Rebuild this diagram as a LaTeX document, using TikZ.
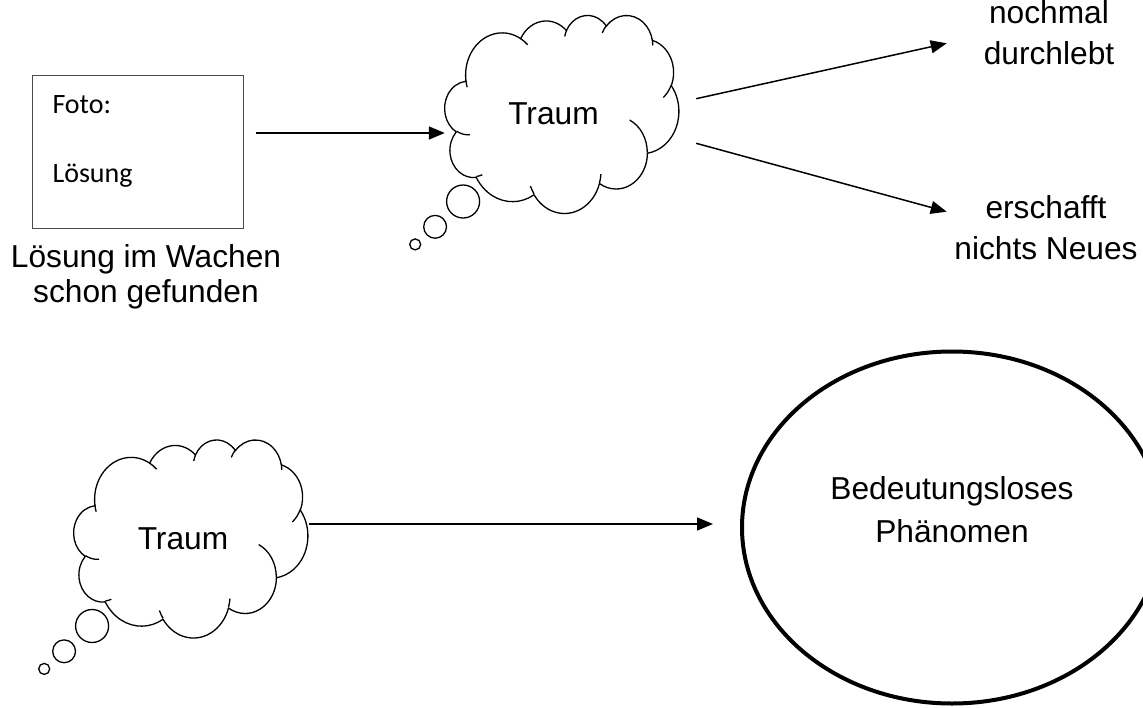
\documentclass[tikz,border=0pt]{standalone}
\usepackage{fontspec}
\setmainfont{Liberation Sans}
\newfontfamily\calfont{Carlito}
\usetikzlibrary{arrows.meta,shapes.geometric}
% arc of a DrawingML preset: wR, hR, start angle, swing angle (visual angles)
\newcommand\carc[4]{arc[start angle={atan2(#1*sin(#3),#2*cos(#3))}, delta angle={mod(atan2(#1*sin(#3+#4),#2*cos(#3+#4))-atan2(#1*sin(#3),#2*cos(#3))+720,360)}, x radius={#1/432}, y radius={#2/432}]}
\newcommand\cloudshape{%
  \draw[cloudline] (9.0278,33.2639)
    \carc{6753}{9190}{-190.48748}{123.78053}
    \carc{5333}{7267}{-144.10238}{89.94523}
    \carc{4365}{5945}{-145.80792}{99.72302}
    \carc{4857}{6595}{-130.98607}{117.24173}
    \carc{5333}{7273}{-78.70888}{109.02692}
    \carc{6775}{9220}{-46.26725}{130.26900}
    \carc{5785}{7867}{0.62502}{114.03333}
    \carc{6752}{9215}{22.45160}{115.17255}
    \carc{7720}{10543}{66.24263}{75.71102}
    \carc{4360}{5918}{-274.94208}{146.73557}
    \carc{4345}{5945}{-246.82850}{152.51885}
    -- cycle;
  \draw[cloudline]
    (10.8634,60.5949) \carc{4345}{5945}{86.742}{26.4295}
    (16.0370,80.7847) \carc{4360}{5918}{73.61047}{11.44747}
    (38.1435,90.4861) \carc{6752}{9215}{137.62415}{14.0811}
    (66.7292,80.4421) \carc{6752}{9215}{6.45327}{15.99835}
    (79.0023,53.1343) \carc{5785}{7867}{-70.29235}{70.91737}
    (96.7546,35.5417) \carc{5333}{7273}{30.31803}{27.7515}
    (88.7130,12.5602) \carc{4857}{6595}{-13.74433}{14.8589}
    (67.3102,9.1481) \carc{4857}{6595}{-149.18145}{18.19537}
    (51.2523,10.9259) \carc{4365}{5945}{-163.49427}{17.68635}
    (32.4074,12.0185) \carc{6753}{9190}{-66.70695}{12.31935}
    (9.5532,36.5486) \carc{6753}{9190}{157.65435}{11.85817};
}
\tikzset{
  lbl/.style={font=\fontsize{31.7}{40.7}\selectfont, align=center, inner sep=0pt},
  cloudline/.style={line width=1.3pt, line join=round},
  cloudnode/.style={minimum width=234pt, minimum height=198pt, inner sep=0pt, font=\fontsize{31.7}{38}\selectfont},
  arr/.style={line width=1.5pt, -{Triangle[length=16pt,width=13pt]}},
  bubble/.style={draw, circle, line width=1.3pt, inner sep=0pt},
}
\begin{document}
\begin{tikzpicture}[x=1pt,y=-1pt]
\useasboundingbox (0,0) rectangle (1143,707);

% box with text
\node[draw=black!70, line width=1pt, minimum width=211pt, minimum height=153pt, inner sep=0pt] (box) at (137.5,151.5) {};
\node[anchor=north west, align=left, inner sep=0pt, font=\calfont\fontsize{28}{34.5}\selectfont] (bt) at (52.3,95) {Foto:\\[34.5pt]Lösung};
\node[lbl, anchor=north, font=\fontsize{31.7}{35.3}\selectfont] (n3) at (146,243.9) {Lösung im Wachen\\schon gefunden};

% top cloud
\node[cloudnode] (c1) at (562,114) {\hspace*{-17pt}Traum};
\begin{scope}[shift={(c1.north west)}, xscale=2.34, yscale=1.98]
  \cloudshape
\end{scope}
\node[bubble, minimum size=33pt] (b1) at ([shift={(18.3,186.7)}]c1.north west) {};
\node[bubble, minimum size=22.8pt] (b2) at ([shift={(-9.7,212)}]c1.north west) {};
\node[bubble, minimum size=11pt] (b3) at ([shift={(-29.6,229.6)}]c1.north west) {};

% right labels
\node[lbl, anchor=north] (n1) at (1049,0.5) {nochmal\\durchlebt};
\node[lbl, anchor=north] (n2) at (1046,195.5) {erschafft\\nichts Neues};

% bottom cloud
\node[cloudnode] (c2) at (191,538.5) {\hspace*{-16pt}Traum};
\begin{scope}[shift={(c2.north west)}, xscale=2.34, yscale=1.98]
  \cloudshape
\end{scope}
\node[bubble, minimum size=33pt] (b4) at ([shift={(18.3,186.7)}]c2.north west) {};
\node[bubble, minimum size=22.8pt] (b5) at ([shift={(-9.7,212)}]c2.north west) {};
\node[bubble, minimum size=11pt] (b6) at ([shift={(-29.6,229.6)}]c2.north west) {};

% ellipse
\node[draw, ellipse, line width=4pt, minimum width=420pt, minimum height=352pt, inner sep=0pt] (ell) at (952,527.5) {};
\node[lbl, anchor=north, font=\fontsize{31.7}{42.4}\selectfont] (n4) at (952,476.5) {Bedeutungsloses\\Phänomen};

% arrows
\draw[arr] ([xshift=12pt,yshift=18.5pt]box.east) coordinate (a1s) -- (c1.west |- a1s);
\draw[arr] ([xshift=17pt,yshift=15.3pt]c1.east) -- ([xshift=-102.3pt,yshift=-42.8pt]n1.north);
\draw[arr] ([xshift=17pt,yshift=-29.3pt]c1.east) -- ([xshift=-99.3pt,yshift=-16.2pt]n2.north);
\draw[arr] ([xshift=1pt,yshift=14.5pt]c2.east) coordinate (a4s) -- ([xshift=-27pt]ell.west |- a4s);
\end{tikzpicture}
\end{document}
